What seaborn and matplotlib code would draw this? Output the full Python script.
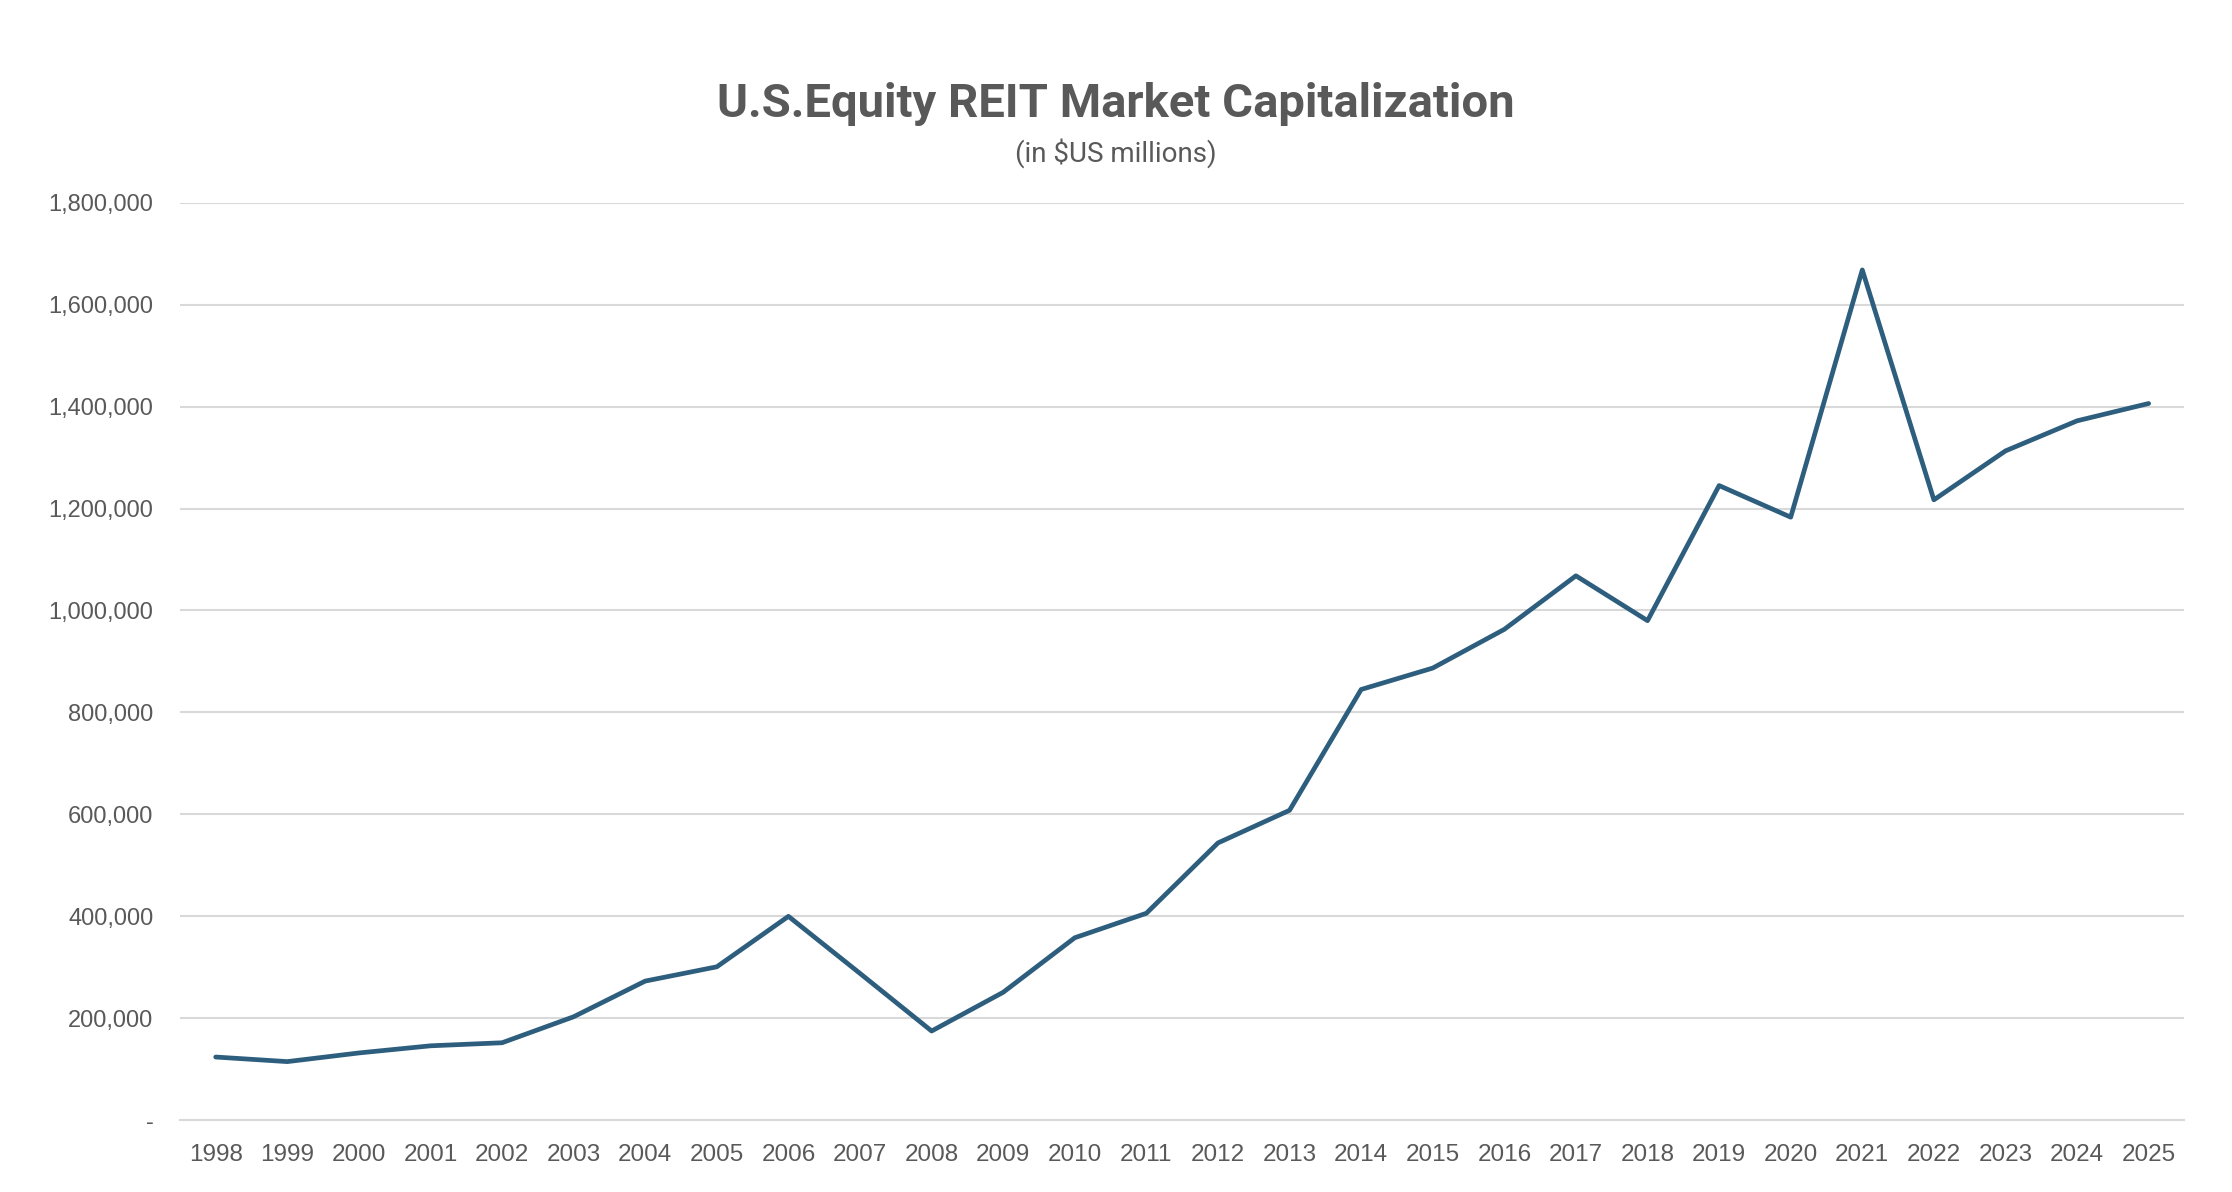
import pandas as pd
import matplotlib.pyplot as plt
import matplotlib.ticker as mticker
import seaborn as sns

# Market cap values (in $US millions)
years = list(range(1998, 2026))
market_cap = [124000, 115000, 132000, 146000, 152000, 203000, 273000, 301000,
              400000, 288000, 175000, 251000, 358000, 406000, 544000, 608000,
              845000, 887000, 963000, 1068000, 980000, 1245000, 1183000, 1668000,
              1217000, 1313000, 1372000, 1406000]
y_ticks = [0, 200000, 400000, 600000, 800000, 1000000, 1200000, 1400000, 1600000, 1800000]

df = pd.DataFrame({'Year': years, 'Market Cap': market_cap})

sns.set_theme(style='whitegrid')
plt.rcParams['font.family'] = ['Liberation Sans', 'DejaVu Sans']

text_color = '#595959'
grid_color = '#D9D9D9'

fig = plt.figure(figsize=(22.32, 11.92), dpi=100)
ax = fig.add_axes([0.0806, 0.0602, 0.8981, 0.7698])

sns.lineplot(data=df, x='Year', y='Market Cap', ax=ax, color='#2E5E7E', linewidth=3.4)

ax.set_xlim(1997.5, 2025.5)
ax.set_ylim(0, 1800000)
ax.set_xticks(years)
ax.set_yticks(y_ticks)
ax.yaxis.set_major_formatter(mticker.FuncFormatter(lambda v, p: '-' if v == 0 else f'{int(v):,}'))

ax.grid(axis='y', color=grid_color, linewidth=1.5)
ax.grid(axis='x', visible=False)
for side in ['top', 'right', 'left']:
    ax.spines[side].set_visible(False)
ax.spines['bottom'].set_color(grid_color)
ax.spines['bottom'].set_linewidth(1.5)

ax.tick_params(axis='y', colors=text_color, labelsize=17, length=0, pad=19)
ax.tick_params(axis='x', colors=text_color, labelsize=17.5, length=0, pad=17)
ax.set_xlabel('')
ax.set_ylabel('')

fig.text(0.5, 0.913, 'U.S.Equity REIT Market Capitalization', ha='center', va='center',
         fontsize=34, fontweight='bold', color=text_color, family=['Roboto', 'DejaVu Sans'])
fig.text(0.5, 0.872, '(in $US millions)', ha='center', va='center',
         fontsize=20, color=text_color, family=['Roboto', 'DejaVu Sans'])

fig.savefig('out.png', dpi=100, facecolor='white')
